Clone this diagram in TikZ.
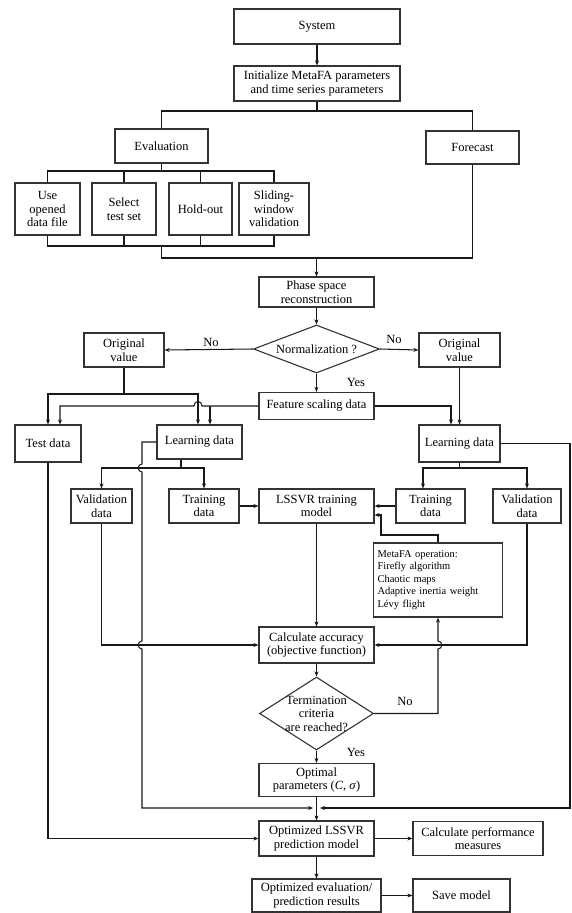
\documentclass[tikz,border=0pt]{standalone}
\usepackage{fontspec}
\setmainfont{Liberation Serif}
\usetikzlibrary{arrows.meta,shapes.geometric}
\begin{document}
\begin{tikzpicture}[x=1pt,y=-1pt,
  box/.style={draw=black!80, line width=1.2pt, rectangle, inner sep=1pt, align=center,
    font=\fontsize{12.5}{13.5}\selectfont},
  dia/.style={draw=black!80, line width=1.1pt, diamond, inner sep=0pt},
  ln/.style={draw=black!90, line width=1.05pt},
  arr/.style={ln, -{Stealth[length=5pt,width=4pt]}},
  lbl/.style={font=\fontsize{12.5}{13.5}\selectfont, inner sep=1pt}
]
\fill[white] (0,0) rectangle (572,913);
\useasboundingbox (0,0) rectangle (572,913);

% nodes
\node[box, minimum width=166pt, minimum height=35pt] (sys) at (317,26.5) {System};
\node[box, minimum width=166pt, minimum height=35pt] (init) at (317,83.5) {Initialize MetaFA parameters\\and time series parameters};
\node[box, minimum width=93pt, minimum height=34pt] (eval) at (161.5,146) {Evaluation};
\node[box, minimum width=93pt, minimum height=33pt] (fore) at (472.5,147.5) {Forecast};
\node[box, minimum width=65pt, minimum height=52pt] (use) at (47.5,209) {Use\\opened\\data file};
\node[box, minimum width=64pt, minimum height=52pt] (sel) at (124,209) {Select\\test set};
\node[box, minimum width=63pt, minimum height=52pt] (hold) at (200.5,209) {Hold-out};
\node[box, minimum width=70pt, minimum height=52pt] (slide) at (274,209) {Sliding-\\window\\validation};
\node[box, minimum width=115pt, minimum height=30pt] (phase) at (316.5,292) {Phase space\\reconstruction};
\node[dia, minimum width=126pt, minimum height=48pt, label={[lbl]center:Normalization ?}] (norm) at (316.5,349) {};
\node[box, minimum width=80pt, minimum height=34pt] (ovl) at (124,350) {Original\\value};
\node[box, minimum width=81pt, minimum height=34pt] (ovr) at (459.5,350) {Original\\value};
\node[box, minimum width=115pt, minimum height=27pt] (fsd) at (316.5,406) {Feature scaling data};
\node[box, minimum width=66pt, minimum height=37pt] (test) at (48,443.5) {Test data};
\node[box, minimum width=85pt, minimum height=34pt] (learnl) at (199.5,442) {Learning data};
\node[box, minimum width=81pt, minimum height=37pt] (learnr) at (459.5,443.5) {Learning data};
\node[box, minimum width=61pt, minimum height=34pt] (vall) at (101.5,506) {Validation\\data};
\node[box, minimum width=70pt, minimum height=34pt] (trainl) at (204,506) {Training\\data};
\node[box, minimum width=115pt, minimum height=34pt] (lssvr) at (316.5,506) {LSSVR training\\model};
\node[box, minimum width=69pt, minimum height=34pt] (trainr) at (430.5,506) {Training\\data};
\node[box, minimum width=68pt, minimum height=34pt] (valr) at (527,506) {Validation\\data};
\node[box, minimum width=129pt, minimum height=74pt, text width=121pt, align=left, inner sep=4pt,
  font=\fontsize{10.5}{12.5}\selectfont] (meta) at (438,580)
  {MetaFA operation:\\Firefly algorithm\\Chaotic maps\\Adaptive inertia weight\\Lévy flight};
\node[box, minimum width=115pt, minimum height=36pt] (calc) at (316.5,645) {Calculate accuracy\\(objective function)};
\node[dia, minimum width=114pt, minimum height=73pt,
  label={[lbl, align=center]center:Termination\\criteria\\are reached?}] (term) at (316.5,713.5) {};
\node[box, minimum width=115pt, minimum height=33pt] (opt) at (316.5,780) {Optimal\\parameters (\textit{C}, \textit{σ})};
\node[box, minimum width=115pt, minimum height=35pt] (olssvr) at (316.5,838.5) {Optimized LSSVR\\prediction model};
\node[box, minimum width=130pt, minimum height=34pt] (perf) at (478,838.5) {Calculate performance\\measures};
\node[box, minimum width=129pt, minimum height=33pt] (oeval) at (316.5,895.5) {Optimized evaluation/\\prediction results};
\node[box, minimum width=97pt, minimum height=33pt] (save) at (461.5,895.5) {Save model};

% labels
\node[lbl] (no1) at (211,342) {No};
\node[lbl] (no2) at (394,339) {No};
\node[lbl] (yes1) at (356,382) {Yes};
\node[lbl] (no3) at (405,701) {No};
\node[lbl] (yes2) at (356,752) {Yes};

% coordinates
\coordinate (j1) at (317,111);
\coordinate (j2) at (161.5,171);
\coordinate (j3) at (161.5,246);
\coordinate (j4) at (161.5,258);
\coordinate (k1) at (124,394);
\coordinate (k2) at (210,406);
\coordinate (k3) at (181,468);
\coordinate (k4) at (459.5,468);
\coordinate (mL) at (313,808);
\coordinate (mR) at (320,808);

% top
\draw[arr] (sys) -- (init);
\draw[ln] (init.south) -- (j1);
\draw[ln] (eval.north) |- (j1) -| (fore.north);
\draw[ln] (eval.south) -- (j2);
\draw[ln] (use.north) |- (slide.north |- j2) -- (slide.north);
\draw[ln] (sel.north) -- (sel.north |- j2);
\draw[ln] (hold.north) -- (hold.north |- j2);
\draw[ln] (use.south) |- (slide.south |- j3) -- (slide.south);
\draw[ln] (sel.south) -- (sel.south |- j3);
\draw[ln] (hold.south) -- (hold.south |- j3);
\draw[ln] (j3) -- (j4) -| (fore.south);
\draw[arr] (phase.north |- j4) -- (phase.north);

% normalization
\draw[arr] (phase) -- (norm);
\draw[arr] (norm.west) -- (ovl.east);
\draw[arr] (norm.east) -- (ovr.west);
\draw[arr] (norm.south) -- (fsd.north);

% to test / learning
\draw[ln] (ovl.south) -- (k1);
\draw[arr] (k1) -| (test.north);
\draw[arr] (k1) -| ([xshift=-1.5pt]learnl.north);
\draw[arr] (fsd.west) -- (202,406) .. controls (202,400) and (194,400) .. (194,406) -| ([xshift=12pt]test.north);
\draw[arr] (k2) -- ([xshift=10.5pt]learnl.north);
\draw[arr] (fsd.east) -| ([xshift=-8.5pt]learnr.north);
\draw[arr] (ovr.south) -- (learnr.north);

% learning splits
\draw[ln] (learnl.south -| k3) -- (k3);
\draw[arr] (k3) -| (vall.north);
\draw[arr] (k3) -| (trainl.north);
\draw[ln] (learnr.south) -- (k4);
\draw[arr] (k4) -| ([xshift=-7.5pt]trainr.north);
\draw[arr] (k4) -| (valr.north);

% long side lines
\draw[arr] (learnl.west) -- (142,442) -- (142,464) .. controls (137,464) and (137,472) .. (142,472)
  -- (142,641) .. controls (137,641) and (137,649) .. (142,649) -- (142,808) -- (mL);
\draw[arr] (learnr.east) -- (570,443.5) -- (570,808) -- (mR);

% training
\draw[arr] (trainl.east) -- (lssvr.west);
\draw[arr] (trainr.west) -- (lssvr.east);
\draw[arr] (meta.north) -- (438,535) -- (381,535) -- (381,515) -- ([yshift=-9pt]lssvr.east);
\draw[arr] (lssvr) -- (calc);
\draw[arr] (vall.south) |- (calc.west);
\draw[arr] (valr.south) |- (calc.east);
\draw[arr] (calc) -- (term);
\draw[arr] (term.east) -- (438,713.5) -- (438,649) .. controls (443,649) and (443,641) .. (438,641) -- (meta.south);
\draw[arr] (term.south) -- (opt.north);
\draw[arr] (opt) -- (olssvr);
\draw[arr] (test.south) |- (olssvr.west);
\draw[arr] (olssvr.east) -- (olssvr.east -| perf.west);
\draw[arr] (olssvr) -- (oeval);
\draw[arr] (oeval.east) -- (oeval.east -| save.west);
\end{tikzpicture}
\end{document}
